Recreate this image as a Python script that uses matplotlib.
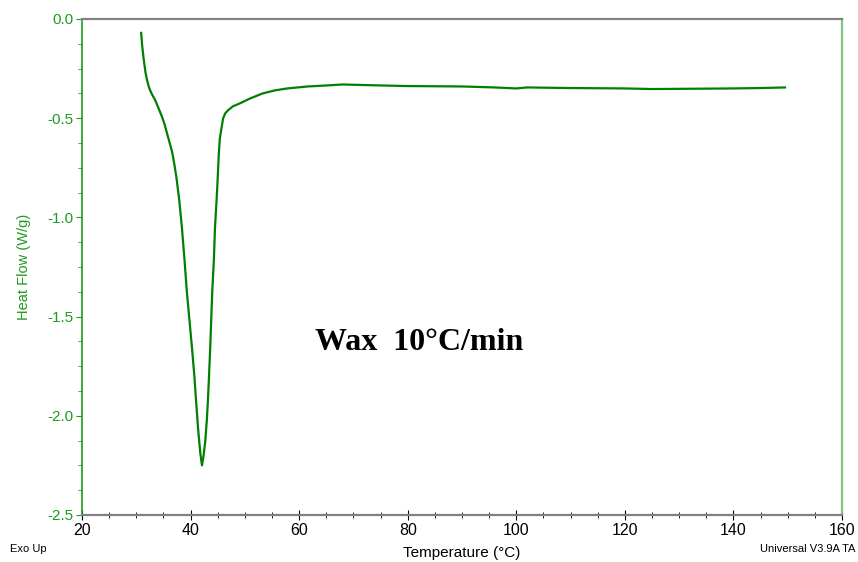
import matplotlib
matplotlib.use("Agg")
import matplotlib.pyplot as plt
from matplotlib.ticker import MultipleLocator

# DSC trace (temperature in C, heat flow in W/g)
temp = [30.9, 31.1, 31.4, 31.7, 32.0, 32.4, 32.9, 33.5, 34.1, 34.7, 35.2,
        35.7, 36.2, 36.6, 37.0, 37.4, 37.9, 38.4, 38.9, 39.3, 39.8, 40.3,
        40.7, 41.0, 41.4, 41.8, 42.1, 42.4, 42.7, 43.0, 43.2, 43.4, 43.6,
        43.8, 44.0, 44.3, 44.5, 44.8, 45.0, 45.2, 45.4, 45.7, 46.0, 46.4,
        46.9, 47.8, 49.1, 51.0, 53.3, 55.5, 57.8, 61.6, 65.0, 68.0, 72.0,
        80.0, 90.0, 96.0, 100.0, 102.0, 110.0, 120.0, 125.0, 130.0, 140.0,
        145.0, 149.5]
heat_flow = [-0.07, -0.14, -0.21, -0.27, -0.31, -0.35, -0.38, -0.41, -0.45,
             -0.49, -0.53, -0.58, -0.63, -0.67, -0.73, -0.80, -0.91, -1.05,
             -1.22, -1.37, -1.52, -1.67, -1.80, -1.92, -2.07, -2.19, -2.25,
             -2.20, -2.13, -2.02, -1.92, -1.80, -1.67, -1.52, -1.37, -1.21,
             -1.05, -0.91, -0.80, -0.68, -0.60, -0.55, -0.50, -0.475, -0.46,
             -0.44, -0.425, -0.40, -0.375, -0.36, -0.35, -0.34, -0.335, -0.33,
             -0.333, -0.338, -0.34, -0.345, -0.35, -0.345, -0.348, -0.35,
             -0.353, -0.352, -0.35, -0.348, -0.345]

green = "#008000"
label_green = "#1f9a1f"

fig = plt.figure(figsize=(8.58, 5.62), dpi=100)
ax = fig.add_axes([82 / 858, 1 - 515 / 562, 760 / 858, 496 / 562])

ax.plot(temp, heat_flow, color=green, lw=1.6)

ax.set_xlim(20, 160)
ax.set_ylim(-2.5, 0.0)
ax.xaxis.set_major_locator(MultipleLocator(20))
ax.xaxis.set_minor_locator(MultipleLocator(5))
ax.yaxis.set_major_locator(MultipleLocator(0.5))
ax.yaxis.set_minor_locator(MultipleLocator(0.125))
ax.yaxis.set_major_formatter(plt.FuncFormatter(lambda v, p: f"{v:.1f}"))

for s in ("top", "bottom"):
    ax.spines[s].set_color("#808080")
    ax.spines[s].set_linewidth(1.6)
ax.spines["left"].set_color(label_green)
ax.spines["left"].set_linewidth(1.2)
ax.spines["right"].set_color("#80c480")
ax.spines["right"].set_linewidth(1.6)

ax.tick_params(axis="x", which="both", direction="inout", colors="black",
               labelsize=11.5, pad=2)
ax.tick_params(axis="x", which="major", length=7)
ax.tick_params(axis="x", which="minor", length=5)
ax.tick_params(axis="y", which="both", direction="out", color=label_green,
               labelcolor=label_green, labelsize=11, pad=2)
ax.tick_params(axis="y", which="major", length=4)
ax.tick_params(axis="y", which="minor", length=3)
for lab in ax.get_xticklabels() + ax.get_yticklabels():
    lab.set_fontfamily("Liberation Sans")

ax.set_xlabel("Temperature (°C)", fontsize=11, family="Liberation Sans", labelpad=6)
ax.set_ylabel("Heat Flow (W/g)", fontsize=10.5, family="Liberation Sans",
              color=label_green, labelpad=12)

ax.text(315 / 858, 1 - 342 / 562, "Wax  10°C/min", transform=fig.transFigure,
        fontsize=23, fontweight="bold", family="Liberation Serif",
        ha="left", va="center")

fig.text(10 / 858, 1 - 549 / 562, "Exo Up", fontsize=8, family="Liberation Sans",
         va="center", ha="left")
fig.text(855 / 858, 1 - 549 / 562, "Universal V3.9A TA", fontsize=8,
         family="Liberation Sans", va="center", ha="right")

fig.savefig("out.png", dpi=100)
